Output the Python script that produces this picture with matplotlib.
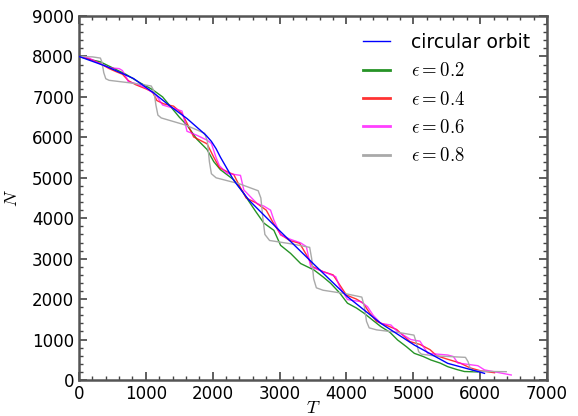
import numpy as np
import matplotlib.pyplot as plt
from matplotlib.ticker import MultipleLocator

plt.rcParams['mathtext.fontset'] = 'cm'

# circular orbit
t_circ = [0, 400, 815, 1115, 1365, 1615, 1815, 1900, 1980, 2050, 2115, 2315, 2540, 3015,
          3515, 4015, 4265, 4515, 5015, 5515, 6065]
n_circ = [8000, 7760, 7455, 7100, 6770, 6465, 6175, 6050, 5900, 5720, 5510, 4935, 4450, 3667,
          2860, 2060, 1730, 1400, 865, 412, 165]

# eccentricity 0.2
t_e2 = [0, 150, 315, 500, 700, 900, 1100, 1250, 1400, 1500, 1615, 1765, 1915, 2015,
        2115, 2315, 2450, 2540, 2650, 2765, 2915, 3015, 3165, 3315, 3515, 3650, 3765,
        3900, 4015, 4150, 4265, 4400, 4515, 4650, 4765, 4900, 5015, 5150, 5265, 5400,
        5515, 5650, 5765, 5965]
n_e2 = [8000, 7930, 7870, 7720, 7560, 7360, 7180, 7000, 6700, 6500, 6300, 5950, 5700, 5400,
        5200, 4950, 4650, 4420, 4150, 3880, 3700, 3330, 3130, 2880, 2720, 2550, 2390,
        2150, 1900, 1780, 1650, 1470, 1320, 1180, 990, 820, 660, 580, 494, 420,
        330, 260, 210, 200]

# eccentricity 0.4
t_e4 = [0, 150, 300, 450, 560, 650, 740, 850, 1000, 1100, 1165, 1265, 1415, 1540, 1615,
        1715, 1915, 2015, 2100, 2215, 2315, 2400, 2500, 2650, 2800, 2900, 3015, 3150,
        3300, 3400, 3500, 3650, 3800, 3900, 4000, 4150, 4250, 4350, 4450, 4600, 4750,
        4850, 4950, 5100, 5250, 5350, 5500, 5700, 5850, 6000, 6215]
n_e4 = [8000, 7940, 7840, 7700, 7620, 7560, 7400, 7300, 7200, 7120, 6910, 6830, 6770, 6590, 6350,
        6010, 5840, 5510, 5250, 5150, 5080, 4800, 4500, 4380, 4200, 3900, 3600, 3450,
        3380, 3100, 2800, 2680, 2600, 2350, 2100, 2000, 1900, 1650, 1450, 1350, 1250,
        1100, 950, 880, 750, 600, 520, 420, 300, 230, 180]

# eccentricity 0.6
t_e6 = [0, 150, 280, 450, 600, 650, 700, 740, 850, 1000, 1150, 1250, 1415, 1540, 1580,
        1615, 1765, 1915, 1980, 2050, 2100, 2215, 2415, 2465, 2665, 2765, 2865, 2915,
        3015, 3165, 3315, 3400, 3465, 3715, 3840, 3900, 4015, 4215, 4315, 4400, 4515,
        4665, 4765, 4965, 5100, 5215, 5515, 5600, 5665, 5965, 6065, 6465]
n_e6 = [8000, 7960, 7850, 7720, 7700, 7650, 7500, 7370, 7330, 7220, 7050, 6800, 6720, 6650, 6400,
        6150, 6050, 5930, 5850, 5500, 5300, 5110, 5060, 4700, 4360, 4300, 4200, 3955,
        3584, 3477, 3390, 3300, 2800, 2640, 2554, 2300, 1990, 1936, 1813, 1600, 1400,
        1360, 1195, 1000, 960, 660, 618, 580, 420, 354, 250, 124]

# eccentricity 0.8
t_e8 = [0, 200, 320, 345, 370, 400, 450, 800, 1080, 1120, 1150, 1180, 1230, 1600, 1880,
        1920, 1950, 1980, 2050, 2400, 2680, 2720, 2750, 2780, 2850, 3200, 3450, 3480,
        3510, 3550, 3650, 4000, 4230, 4270, 4300, 4340, 4450, 4800, 5010, 5050, 5080,
        5120, 5300, 5780, 5820, 5850, 5900, 6100, 6390]
n_e8 = [8000, 7990, 7960, 7850, 7600, 7450, 7410, 7340, 7270, 7150, 6800, 6550, 6480, 6300, 6100,
        5900, 5400, 5100, 5000, 4850, 4680, 4500, 4000, 3600, 3450, 3360, 3280, 3000,
        2500, 2280, 2220, 2130, 2050, 1800, 1450, 1290, 1240, 1170, 1110, 900, 700,
        640, 600, 560, 450, 290, 230, 212, 206]

fig = plt.figure(figsize=(5.78, 4.16), dpi=100)
ax = fig.add_axes([0.1367, 0.0865, 0.8097, 0.875])

ax.plot(t_circ, n_circ, color='b', lw=1.0, label='circular orbit', zorder=5)
ax.plot(t_e2, n_e2, color='g', lw=1.0, alpha=0.85, label=r'$\epsilon=0.2$')
ax.plot(t_e4, n_e4, color='r', lw=1.0, alpha=0.8, label=r'$\epsilon=0.4$')
ax.plot(t_e6, n_e6, color='magenta', lw=1.0, alpha=0.75, label=r'$\epsilon=0.6$')
ax.plot(t_e8, n_e8, color='darkgray', lw=1.0, label=r'$\epsilon=0.8$')

ax.set_xlim(0, 7000)
ax.set_ylim(0, 9000)
ax.xaxis.set_major_locator(MultipleLocator(1000))
ax.yaxis.set_major_locator(MultipleLocator(1000))
ax.xaxis.set_minor_locator(MultipleLocator(200))
ax.yaxis.set_minor_locator(MultipleLocator(200))
ax.tick_params(which='both', direction='in', top=True, right=True, color='#444444')
ax.tick_params(which='major', length=6, width=1.2, labelsize=12)
ax.tick_params(which='minor', length=3, width=1.0)
for s in ax.spines.values():
    s.set_color('#555555')
    s.set_linewidth(1.8)

ax.set_xlabel(r'$T$', fontsize=13, labelpad=-3)
ax.set_ylabel(r'$N$', fontsize=13, labelpad=8)

leg = ax.legend(loc='upper right', frameon=False, fontsize=13.5, handlelength=1.45,
                handletextpad=1.1)
for h in leg.get_lines():
    h.set_linewidth(2.0)
leg.get_lines()[0].set_linewidth(1.0)

fig.savefig('out.png', dpi=100)
